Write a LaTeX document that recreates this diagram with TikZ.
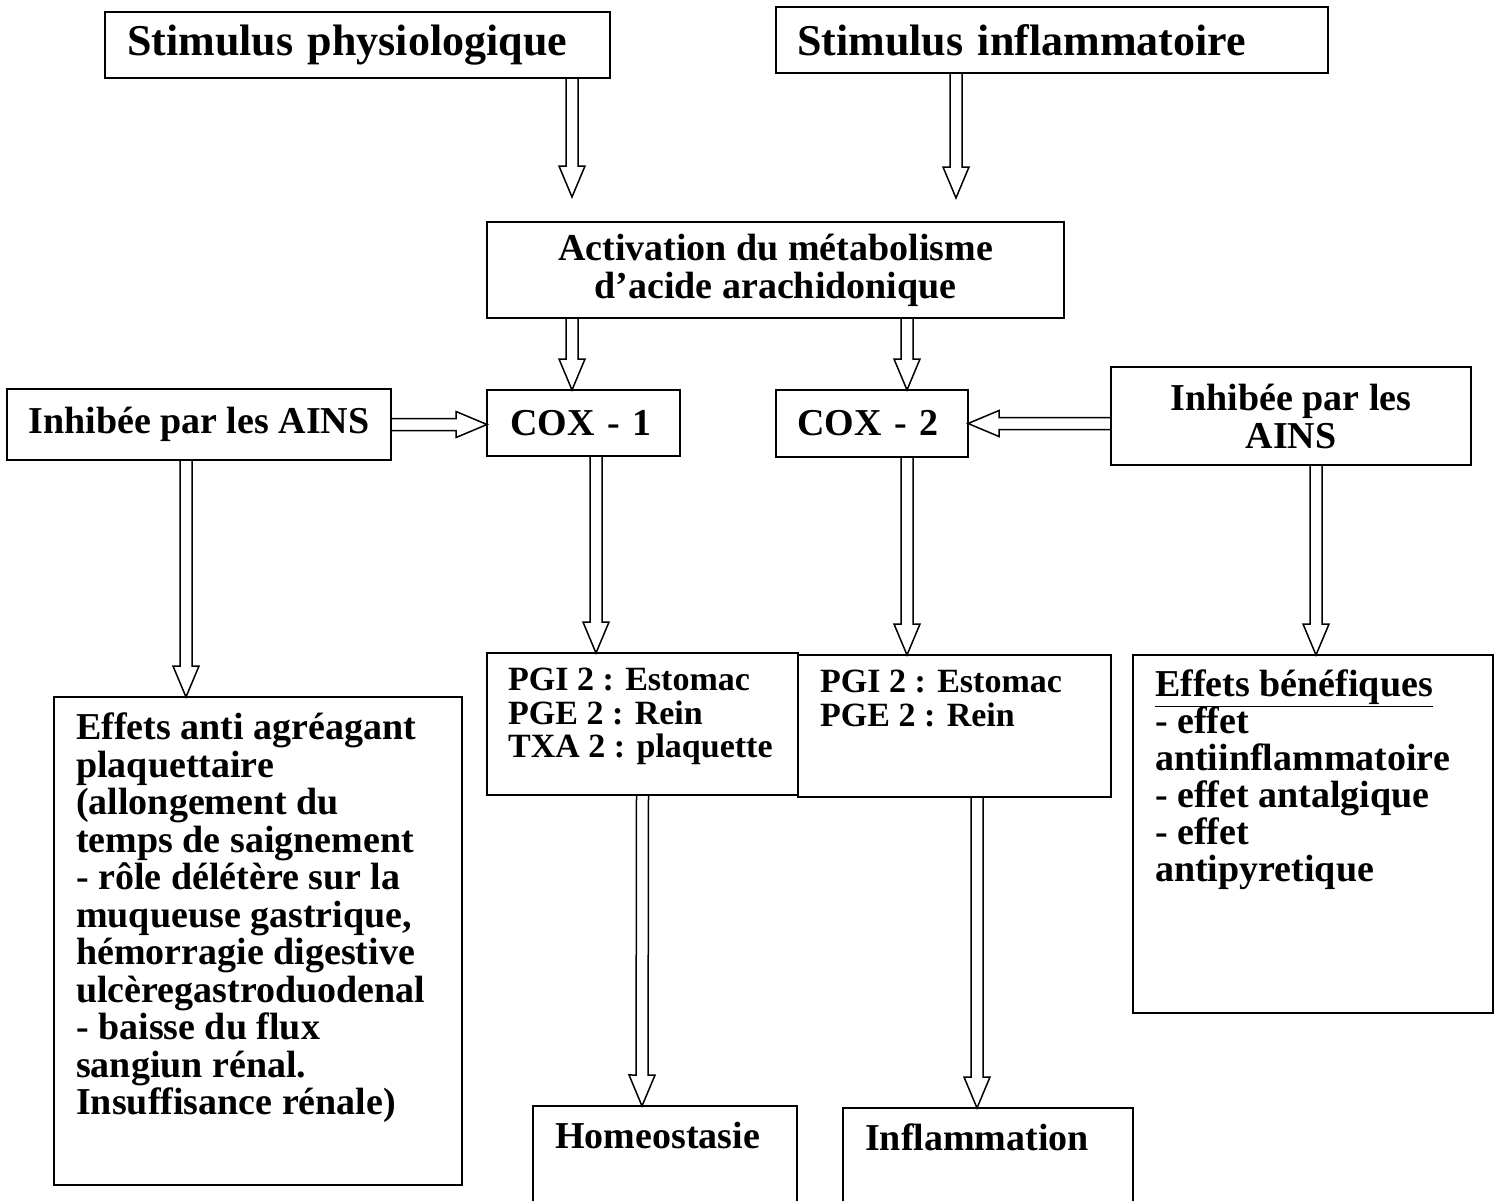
\documentclass[tikz,border=0pt]{standalone}
\usepackage{fontspec}
\setmainfont{Liberation Serif}
\usetikzlibrary{calc}

\begin{document}
\begin{tikzpicture}[x=1pt, y=-1pt,
    box/.style={draw, line width=2pt, anchor=north west, inner sep=0pt, outer sep=0pt,
      font=\bfseries\fontsize{38}{38}\selectfont},
    txt/.style={anchor=north west, inner sep=0pt, align=left,
      font=\bfseries\fontsize{38}{37.5}\selectfont},
    blk/.style={line width=1.5pt, to path={
      ($(\tikztostart)!6pt!90:(\tikztotarget)$)
      -- ($($(\tikztotarget)!31pt!(\tikztostart)$)!6pt!-90:(\tikztostart)$)
      -- ($($(\tikztotarget)!31pt!(\tikztostart)$)!13pt!-90:(\tikztostart)$)
      -- (\tikztotarget)
      -- ($($(\tikztotarget)!31pt!(\tikztostart)$)!13pt!90:(\tikztostart)$)
      -- ($($(\tikztotarget)!31pt!(\tikztostart)$)!6pt!90:(\tikztostart)$)
      -- ($(\tikztostart)!6pt!-90:(\tikztotarget)$)}}]
    \useasboundingbox (0,0) rectangle (1502,1200);

    % Stimuli
    \node[box, minimum width=505, minimum height=66, text width=461, align=left,
      font=\bfseries\fontsize{44}{46}\selectfont] (stimA) at (105,12) {Stimulus physiologique};
    \node[box, minimum width=552, minimum height=66, text width=510, align=left,
      font=\bfseries\fontsize{44}{46}\selectfont] (stimB) at (776,7) {Stimulus inflammatoire};

    % Arachidonic acid
    \node[box, minimum width=577, minimum height=96, align=center] (act) at (487,222)
      {Activation du métabolisme\\d'acide arachidonique};

    % COX and inhibitors
    \node[box, minimum width=384, minimum height=71, align=center] (inhA) at (7,389) {Inhibée par les AINS};
    \node[box, minimum width=193, minimum height=66, text width=147, align=left] (coxA) at (487,390) {COX - 1};
    \node[box, minimum width=192, minimum height=67, text width=150, align=left] (coxB) at (776,390) {COX - 2};
    \node[box, minimum width=360, minimum height=98, align=center] (inhB) at (1111,367) {Inhibée par les\\AINS};

    % Effects
    \node[box, minimum width=408, minimum height=488] (effA) at (54,697) {};
    \node[txt] (effAt) at ($(effA.north west)+(22,16)$) {Effets anti agréagant\\plaquettaire\\(allongement du\\temps de saignement\\- rôle délétère sur la\\muqueuse gastrique,\\hémorragie digestive\\ulcèregastroduodenal\\- baisse du flux\\sangiun rénal.\\Insuffisance rénale)};

    \node[box, minimum width=311, minimum height=142] (pgA) at (487,653) {};
    \node[txt, font=\bfseries\fontsize{34}{33.5}\selectfont] (pgAt) at ($(pgA.north west)+(21,15)$)
      {PGI 2 : Estomac\\PGE 2 : Rein\\TXA 2 : plaquette};
    \node[box, minimum width=313, minimum height=142] (pgB) at (798,655) {};
    \node[txt, font=\bfseries\fontsize{34}{33.5}\selectfont] (pgBt) at ($(pgB.north west)+(22,15)$)
      {PGI 2 : Estomac\\PGE 2 : Rein};

    \node[box, minimum width=360, minimum height=358] (effB) at (1133,655) {};
    \node[txt, font=\bfseries\fontsize{38}{37}\selectfont] (effBt) at ($(effB.north west)+(22,15)$)
      {\underline{Effets bénéfiques}\\- effet\\antiinflammatoire\\- effet antalgique\\- effet\\antipyretique};

    % Outcomes
    \node[box, minimum width=264, minimum height=130] (homeo) at (533,1106) {};
    \node[txt] (homeot) at ($(homeo.north west)+(22,16)$) {Homeostasie};
    \node[box, minimum width=290, minimum height=130] (infl) at (843,1108) {};
    \node[txt] (inflt) at ($(infl.north west)+(22,16)$) {Inflammation};

    % Block arrows
    \draw[blk] ([xshift=-38]stimA.south east) to ([xshift=85,yshift=25]act.north west);
    \draw[blk] ([xshift=180]stimB.south west) to ([xshift=-108,yshift=24]act.north east);
    \draw[blk] ([xshift=85]act.south west) to ([xshift=85]coxA.north west);
    \draw[blk] ([xshift=-157]act.south east) to ([xshift=131]coxB.north west);
    \draw[blk] (inhA.east) to (inhA.east -| coxA.west);
    \draw[blk] (coxB.east -| inhB.west) to (coxB.east);
    \draw[blk] ([xshift=179]inhA.south west) to ([xshift=132]effA.north west);
    \draw[blk] ([xshift=109]coxA.south west) to ([xshift=109]pgA.north west);
    \draw[blk] ([xshift=131]coxB.south west) to ([xshift=109]pgB.north west);
    \draw[blk] ([xshift=205]inhB.south west) to ([xshift=183]effB.north west);
    \draw[blk] (pgA.south) to ([xshift=109]homeo.north west);
    \draw[blk] ([xshift=179]pgB.south west) to ([xshift=134]infl.north west);
\end{tikzpicture}
\end{document}
